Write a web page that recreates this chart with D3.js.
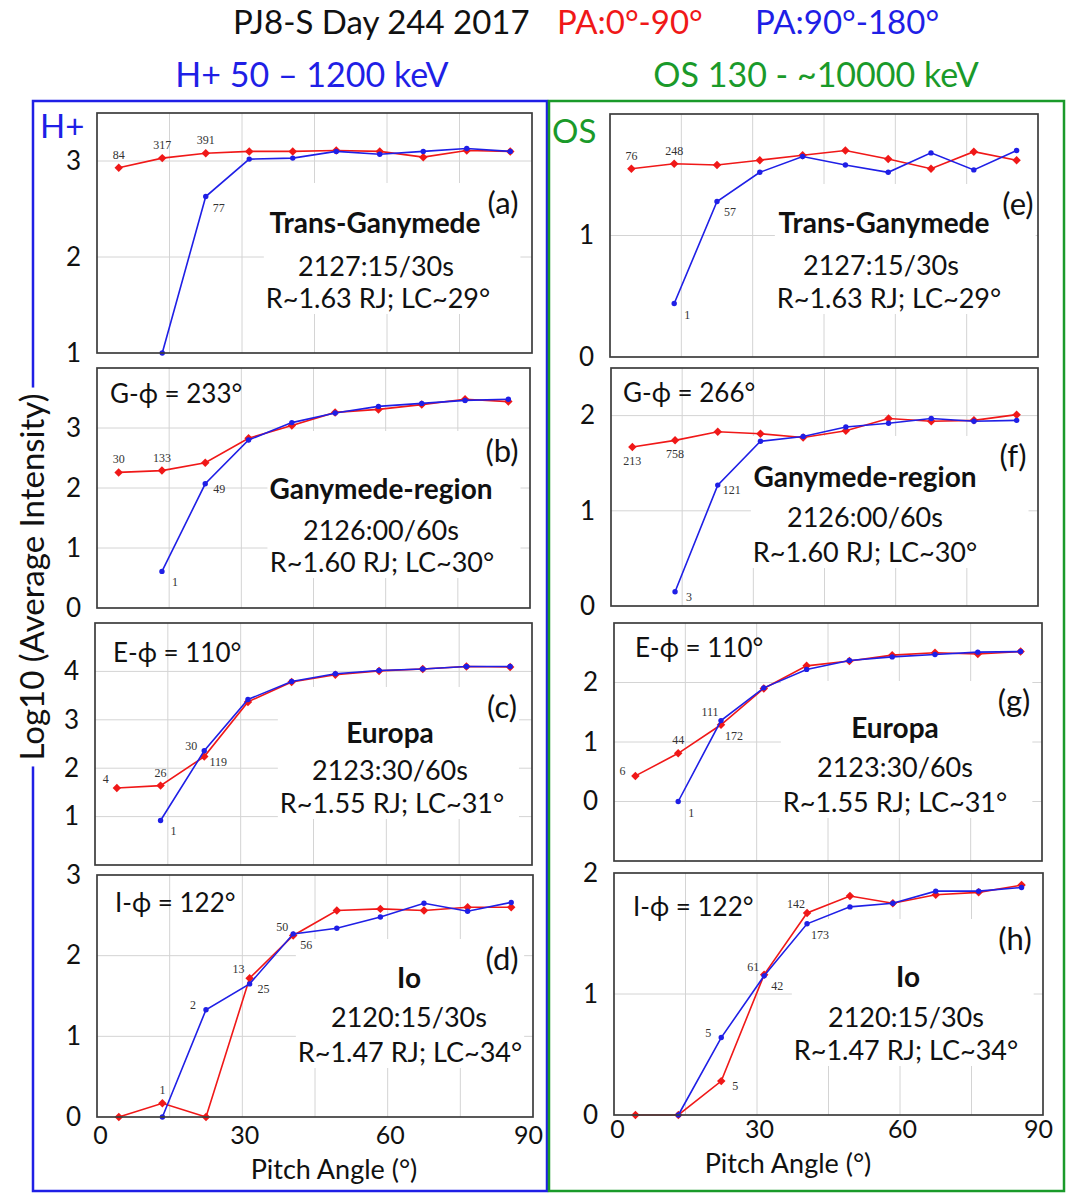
<!DOCTYPE html>
<html>
<head>
<meta charset="utf-8">
<script src="https://cdn.jsdelivr.net/npm/d3@7"></script>
<style>
  body { margin: 0; background: #fff; }
  text { font-family: Lato, "Open Sans", sans-serif; }
</style>
</head>
<body>
<svg id="chart" width="1076" height="1193"></svg>
<script>
// pitch angle bin centres (deg)
var pitchAngles = [4.5, 13.5, 22.5, 31.5, 40.5, 49.5, 58.5, 67.5, 76.5, 85.5];
var xTicks = [0, 30, 60, 90];
var xGrid = [15, 30, 45, 60, 75];

// H+ column, red = PA 0-90, blue = PA 90-180 (log10 intensity)
var redA  = [2.93, 3.03, 3.08, 3.10, 3.10, 3.11, 3.10, 3.04, 3.11, 3.10];
var blueA = [null, 1.00, 2.63, 3.02, 3.03, 3.10, 3.07, 3.10, 3.13, 3.10];
var redB  = [2.26, 2.29, 2.42, 2.83, 3.04, 3.26, 3.31, 3.39, 3.48, 3.44];
var blueB = [null, 0.61, 2.07, 2.80, 3.09, 3.25, 3.36, 3.41, 3.46, 3.48];
var redC  = [1.59, 1.64, 2.24, 3.37, 3.78, 3.93, 4.01, 4.05, 4.10, 4.09];
var blueC = [null, 0.92, 2.36, 3.42, 3.79, 3.95, 4.02, 4.05, 4.10, 4.10];
var redD  = [0.00, 0.17, 0.00, 1.72, 2.25, 2.56, 2.58, 2.56, 2.60, 2.60];
var blueD = [null, 0.00, 1.33, 1.65, 2.27, 2.34, 2.48, 2.65, 2.55, 2.66];

// OS column
var redE  = [1.55, 1.59, 1.58, 1.62, 1.66, 1.70, 1.63, 1.55, 1.69, 1.62];
var blueE = [null, 0.44, 1.28, 1.52, 1.65, 1.58, 1.52, 1.68, 1.54, 1.70];
var redF  = [1.67, 1.74, 1.83, 1.81, 1.77, 1.84, 1.97, 1.94, 1.95, 2.01];
var blueF = [null, 0.15, 1.27, 1.73, 1.78, 1.88, 1.92, 1.97, 1.94, 1.95];
var redG  = [0.43, 0.81, 1.29, 1.90, 2.28, 2.36, 2.46, 2.50, 2.48, 2.52];
var blueG = [null, 0.00, 1.36, 1.91, 2.22, 2.37, 2.43, 2.47, 2.51, 2.52];
var redH  = [0.00, 0.00, 0.28, 1.16, 1.67, 1.81, 1.75, 1.82, 1.84, 1.90];
var blueH = [null, 0.00, 0.64, 1.15, 1.58, 1.72, 1.75, 1.85, 1.85, 1.88];

// count labels: [bin index, series, text, side]
var countsA = [[0,'red','84','n'], [1,'red','317','n'], [2,'red','391','n'], [2,'blue','77','se']];
var countsB = [[0,'red','30','n'], [1,'red','133','n'], [2,'blue','49','e'], [1,'blue','1','se']];
var countsC = [[0,'red','4','nw'], [1,'red','26','n'], [2,'blue','30','w'], [2,'red','119','e'], [1,'blue','1','se']];
var countsD = [[1,'red','1','n'], [2,'blue','2','w'], [3,'red','13','nw'], [3,'blue','25','e'], [4,'red','50','nw'], [4,'blue','56','se']];
var countsE = [[0,'red','76','n'], [1,'red','248','n'], [2,'blue','57','se'], [1,'blue','1','se']];
var countsF = [[0,'red','213','s'], [1,'red','758','s'], [2,'blue','121','e'], [1,'blue','3','e']];
var countsG = [[0,'red','6','w'], [1,'red','44','n'], [2,'blue','111','nw'], [2,'red','172','se'], [1,'blue','1','se']];
var countsH = [[4,'red','142','nw'], [4,'blue','173','se'], [3,'blue','61','nw'], [3,'red','42','se'], [2,'blue','5','w'], [2,'red','5','e']];

var regionNames = ['Trans-Ganymede', 'Ganymede-region', 'Europa', 'Io'];
var timeLabels = ['2127:15/30s', '2126:00/60s', '2123:30/60s', '2120:15/30s'];
var orbitLabels = ['R~1.63 RJ; LC~29°', 'R~1.60 RJ; LC~30°', 'R~1.55 RJ; LC~31°', 'R~1.47 RJ; LC~34°'];
var phiH = [null, 'G-ϕ = 233°', 'E-ϕ = 110°', 'I-ϕ = 122°'];
var phiOS = [null, 'G-ϕ = 266°', 'E-ϕ = 110°', 'I-ϕ = 122°'];
var panelLetters = ['a', 'b', 'c', 'd', 'e', 'f', 'g', 'h'];

var RED = '#f01818', BLUE = '#1f1fe6', GREEN = '#1a9a2a';

var svg = d3.select('#chart');

// panel layout
var panels = [
  {red: redA, blue: blueA, counts: countsA, box: [97, 113, 532, 353], dom: [1, 3.5], ticks: [1, 2, 3],
   letter: [503, 214], name: [375, 233], time: [376, 276], orbit: [378, 308], phi: null},
  {red: redB, blue: blueB, counts: countsB, box: [97, 368, 530, 608], dom: [0, 4], ticks: [0, 1, 2, 3],
   letter: [502, 462], name: [381, 499], time: [381, 540], orbit: [382, 572], phi: [110, 403]},
  {red: redC, blue: blueC, counts: countsC, box: [95, 623, 532, 865], dom: [0, 5], ticks: [1, 2, 3, 4],
   letter: [502, 718], name: [390, 743], time: [390, 780], orbit: [392, 813], phi: [113, 662]},
  {red: redD, blue: blueD, counts: countsD, box: [97, 875, 533, 1117], dom: [0, 3], ticks: [0, 1, 2, 3],
   letter: [502, 970], name: [409, 988], time: [409, 1027], orbit: [410, 1062], phi: [115, 912],
   xaxis: 9, xlabel: [334, 1179]},
  {red: redE, blue: blueE, counts: countsE, box: [610, 114, 1038, 357], dom: [0, 2], ticks: [0, 1],
   letter: [1018, 215], name: [884, 233], time: [881, 275], orbit: [889, 308], phi: null},
  {red: redF, blue: blueF, counts: countsF, box: [611, 368, 1038, 606], dom: [0, 2.5], ticks: [0, 1, 2],
   letter: [1013, 467], name: [865, 487], time: [865, 527], orbit: [865, 562], phi: [623, 402]},
  {red: redG, blue: blueG, counts: countsG, box: [614, 623, 1042, 861], dom: [-1, 3], ticks: [0, 1, 2],
   letter: [1014, 712], name: [895, 738], time: [895, 777], orbit: [895, 812], phi: [635, 657]},
  {red: redH, blue: blueH, counts: countsH, box: [614, 873, 1043, 1115], dom: [0, 2], ticks: [0, 1, 2],
   letter: [1015, 950], name: [908, 987], time: [906, 1027], orbit: [906, 1060], phi: [633, 916],
   xaxis: 5, xlabel: [788, 1173]}
];

var sideOffset = {n: [0, -13], s: [0, 14], e: [14, 5], se: [13, 11], w: [-13, -5], nw: [-11, -9]};

// column frames
svg.append('rect').attr('x', 33).attr('y', 101).attr('width', 514).attr('height', 1090)
  .attr('fill', 'none').attr('stroke', BLUE).attr('stroke-width', 2.5);
svg.append('rect').attr('x', 549).attr('y', 101).attr('width', 515).attr('height', 1090)
  .attr('fill', 'none').attr('stroke', GREEN).attr('stroke-width', 2.5);

// titles
var t1 = svg.append('text').attr('y', 34).attr('font-size', 33);
t1.append('tspan').attr('x', 233).attr('fill', '#111').text('PJ8-S Day 244 2017');
t1.append('tspan').attr('x', 557).attr('fill', RED).text('PA:0°-90°');
t1.append('tspan').attr('x', 755).attr('fill', BLUE).text('PA:90°-180°');

svg.append('text').attr('x', 312).attr('y', 87).attr('text-anchor', 'middle')
  .attr('font-size', 34).attr('fill', BLUE).text('H+ 50 – 1200 keV');
svg.append('text').attr('x', 816).attr('y', 87).attr('text-anchor', 'middle')
  .attr('font-size', 34).attr('fill', GREEN).text('OS 130 - ~10000 keV');

svg.append('text').attr('x', 40).attr('y', 138).attr('font-size', 33).attr('fill', BLUE).text('H+');
svg.append('text').attr('x', 552).attr('y', 143).attr('font-size', 33).attr('fill', GREEN).text('OS');

panels.forEach(function (p, k) {
  var col = k < 4 ? 0 : 1;
  var row = k % 4;
  var x = d3.scaleLinear().domain([0, 90]).range([p.box[0], p.box[2]]);
  var y = d3.scaleLinear().domain(p.dom).range([p.box[3], p.box[1]]);
  var g = svg.append('g');

  g.append('rect').attr('x', p.box[0]).attr('y', p.box[1])
    .attr('width', p.box[2] - p.box[0]).attr('height', p.box[3] - p.box[1])
    .attr('fill', '#fff');

  // grid
  g.selectAll('.vg').data(xGrid).enter().append('line')
    .attr('x1', function (d) { return x(d); }).attr('x2', function (d) { return x(d); })
    .attr('y1', p.box[1]).attr('y2', p.box[3])
    .attr('stroke', '#d4d4d4').attr('stroke-width', 1);
  g.selectAll('.hg').data(p.ticks.filter(function (t) { return t > p.dom[0] && t < p.dom[1]; }))
    .enter().append('line')
    .attr('x1', p.box[0]).attr('x2', p.box[2])
    .attr('y1', function (d) { return y(d); }).attr('y2', function (d) { return y(d); })
    .attr('stroke', '#d4d4d4').attr('stroke-width', 1);

  // annotation text block with white background
  var ann = svg.append('g');
  ann.append('text').attr('x', p.name[0]).attr('y', p.name[1]).attr('text-anchor', 'middle')
    .attr('font-size', 28).attr('font-weight', 'bold').attr('fill', '#111').text(regionNames[row]);
  ann.append('text').attr('x', p.time[0]).attr('y', p.time[1]).attr('text-anchor', 'middle')
    .attr('font-size', 27).attr('fill', '#111').text(timeLabels[row]);
  ann.append('text').attr('x', p.orbit[0]).attr('y', p.orbit[1]).attr('text-anchor', 'middle')
    .attr('font-size', 27).attr('fill', '#111').text(orbitLabels[row]);
  ann.append('text').attr('x', p.letter[0]).attr('y', p.letter[1]).attr('text-anchor', 'middle')
    .attr('font-size', 31).attr('fill', '#111').text('(' + panelLetters[k] + ')');
  var bb = ann.node().getBBox();
  g.append('rect').attr('x', bb.x - 2).attr('y', bb.y)
    .attr('width', Math.min(bb.width + 4, p.box[2] - bb.x)).attr('height', bb.height)
    .attr('fill', '#fff');

  // series
  var line = d3.line()
    .defined(function (d) { return d[1] != null; })
    .x(function (d) { return x(d[0]); })
    .y(function (d) { return y(d[1]); });
  var redPts = pitchAngles.map(function (a, i) { return [a, p.red[i]]; });
  var bluePts = pitchAngles.map(function (a, i) { return [a, p.blue[i]]; });

  g.append('path').datum(redPts).attr('d', line)
    .attr('fill', 'none').attr('stroke', RED).attr('stroke-width', 1.6);
  g.selectAll('.rm').data(redPts).enter().append('path')
    .attr('d', d3.symbol(d3.symbolSquare, 36))
    .attr('transform', function (d) { return 'translate(' + x(d[0]) + ',' + y(d[1]) + ') rotate(45)'; })
    .attr('fill', RED);
  g.append('path').datum(bluePts).attr('d', line)
    .attr('fill', 'none').attr('stroke', BLUE).attr('stroke-width', 1.6);
  g.selectAll('.bm').data(bluePts.filter(function (d) { return d[1] != null; })).enter().append('circle')
    .attr('cx', function (d) { return x(d[0]); }).attr('cy', function (d) { return y(d[1]); })
    .attr('r', 2.7).attr('fill', BLUE);

  // count labels
  g.selectAll('.cl').data(p.counts).enter().append('text')
    .attr('x', function (d) { return x(pitchAngles[d[0]]) + sideOffset[d[3]][0]; })
    .attr('y', function (d) {
      var v = (d[1] === 'red' ? p.red : p.blue)[d[0]];
      return y(v) + sideOffset[d[3]][1];
    })
    .attr('text-anchor', 'middle').attr('dominant-baseline', 'central')
    .style('font-family', '"Liberation Serif", serif').attr('font-size', 12).attr('fill', '#333')
    .text(function (d) { return d[2]; });

  // frame
  g.append('rect').attr('x', p.box[0]).attr('y', p.box[1])
    .attr('width', p.box[2] - p.box[0]).attr('height', p.box[3] - p.box[1])
    .attr('fill', 'none').attr('stroke', '#3c3c3c').attr('stroke-width', 1.7);

  // y axis
  var ya = g.append('g').attr('transform', 'translate(' + p.box[0] + ',0)')
    .call(d3.axisLeft(y).tickValues(p.ticks).tickSize(0).tickPadding(16).tickFormat(d3.format('d')));
  ya.select('.domain').remove();
  ya.selectAll('text').attr('font-size', 26).attr('fill', '#111').style('font-family', 'Lato, sans-serif');

  // x axis on bottom row
  if (p.xaxis) {
    var xa = g.append('g').attr('transform', 'translate(0,' + p.box[3] + ')')
      .call(d3.axisBottom(x).tickValues(xTicks).tickSize(0).tickPadding(p.xaxis));
    xa.select('.domain').remove();
    xa.selectAll('text').attr('font-size', 25).attr('fill', '#111').style('font-family', 'Lato, sans-serif')
      .attr('dx', function (d) { return d === 90 ? -5 : (d === 0 ? 3 : 2); });
    g.append('text').attr('x', p.xlabel[0]).attr('y', p.xlabel[1]).attr('text-anchor', 'middle')
      .attr('font-size', 27).attr('fill', '#111').text('Pitch Angle (°)');
  }

  var phi = col === 0 ? phiH[row] : phiOS[row];
  if (phi) {
    g.append('text').attr('x', p.phi[0]).attr('y', p.phi[1])
      .attr('font-size', 26).attr('fill', '#111').text(phi);
  }

  ann.raise();
});

// y-axis title over the blue frame line
var ylBack = svg.append('rect').attr('fill', '#fff');
var yl = svg.append('text')
  .attr('transform', 'translate(44,577) rotate(-90)')
  .attr('text-anchor', 'middle').attr('font-size', 33).attr('fill', '#111')
  .text('Log10 (Average Intensity)');
var lb = yl.node().getBBox();
ylBack.attr('x', 22).attr('y', 577 - lb.width / 2 - 6)
  .attr('width', 30).attr('height', lb.width + 12);
</script>
</body>
</html>
